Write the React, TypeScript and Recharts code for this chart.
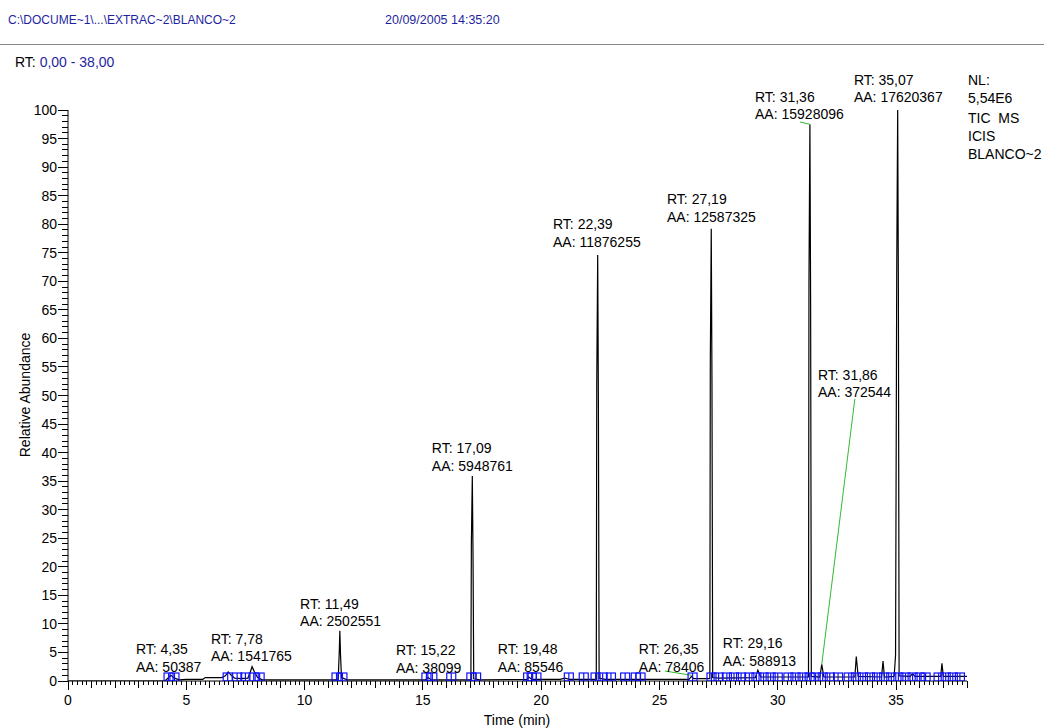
import {
  ComposedChart,
  Line,
  ReferenceDot,
  ReferenceLine,
  Scatter,
  XAxis,
  YAxis,
} from 'recharts'

// TIC trace, [time (min), relative abundance %]
const tracePoints: [number, number][] = [
  [0, 0], [4.1, 0], [4.2, 0.4], [4.35, 1.0], [4.5, 0.5], [4.7, 0.2],
  [5.0, 0.3], [5.7, 0.3], [5.8, 0.6], [6.5, 0.6], [6.65, 0.9], [6.77, 1.6],
  [6.9, 1.0], [7.05, 0.5], [7.3, 0.4], [7.6, 0.5], [7.7, 1.5], [7.78, 2.5],
  [7.88, 1.6], [8.0, 0.7], [8.2, 0.2], [11.42, 0.2], [11.47, 5.5], [11.49, 8.8],
  [11.52, 4.5], [11.56, 0.6], [11.8, 0.2], [15.1, 0.2], [15.22, 0.6], [15.35, 0.2],
  [17.03, 0.2], [17.05, 24], [17.09, 35.9], [17.12, 22], [17.15, 0.4], [17.4, 0.2],
  [19.4, 0.3], [19.48, 0.7], [19.6, 0.3], [20.8, 0.3], [21.0, 0.5], [21.2, 0.3],
  [22.33, 0.3], [22.35, 52], [22.39, 74.6], [22.42, 48], [22.45, 0.5], [22.7, 0.3],
  [26.25, 0.3], [26.35, 0.8], [26.45, 0.4], [27.13, 0.4], [27.15, 56], [27.19, 79.2],
  [27.22, 52], [27.25, 0.6], [27.5, 0.5], [29.05, 0.6], [29.16, 1.9], [29.28, 0.7],
  [30.2, 0.7], [31.3, 0.7], [31.32, 70], [31.36, 97.5], [31.39, 66], [31.42, 0.8],
  [31.78, 0.7], [31.86, 2.9], [31.95, 0.7], [33.26, 0.7], [33.32, 4.3], [33.4, 0.8],
  [34.39, 0.7], [34.45, 3.5], [34.51, 0.7], [34.92, 0.8], [34.98, 4.5], [35.03, 72],
  [35.07, 100], [35.1, 68], [35.13, 0.9], [35.6, 0.8], [35.7, 1.3], [35.8, 0.8],
  [36.89, 0.8], [36.94, 3.1], [37.0, 0.8], [38, 0.8],
]

// ICIS peak start/end markers (min)
const markerTimes = [
  4.25, 4.5, 6.75, 7.15, 7.5, 7.85, 8.1, 11.35, 11.6, 15.15, 15.4, 16.2,
  17.05, 17.25, 19.45, 19.6, 19.8, 21.17, 21.8, 22.3, 22.6, 22.95, 23.55, 24.0,
  24.2, 26.4, 27.2, 27.5, 27.85, 28.15, 28.45, 28.8, 29.1, 29.4, 29.7, 30.0,
  30.45, 30.75, 31.05, 31.35, 31.6, 31.9, 32.2, 32.55, 33.0, 33.3, 33.6, 33.9,
  34.2, 34.5, 34.8, 35.1, 35.4, 35.7, 36.0, 36.25, 36.8, 37.1, 37.4, 37.7,
]

// labelled peaks
const peakRT = [4.35, 7.78, 11.49, 15.22, 17.09, 19.48, 22.39, 26.35, 27.19, 29.16, 31.36, 31.86, 35.07]
const peakArea = [
  50387, 1541765, 2502551, 38099, 5948761, 85546, 11876255, 78406, 12587325,
  588913, 15928096, 372544, 17620367,
]
// label anchor (left edge in min, first line in %)
const labelAt: [number, number][] = [
  [2.87, 5.6], [6.04, 7.4], [9.81, 13.5], [13.86, 5.4], [15.38, 40.8], [18.17, 5.6],
  [20.5, 80.0], [24.13, 5.6], [25.32, 84.4], [27.68, 6.65], [29.04, 102.3], [31.7, 53.6],
  [33.22, 105.3],
]
// leader lines from label to peak
const leaders: [number, number, number, number][] = [
  [25.23, 1.75, 26.35, 1.0],
  [30.94, 97.9, 31.36, 97.5],
  [33.26, 49.4, 31.86, 2.9],
]

const infoLines = ['NL:', '5,54E6', 'TIC  MS', 'ICIS', 'BLANCO~2']

// tick positions: x every 0.2 min (labels every 5), y every 1 % (labels every 5)
const xTicks = Array.from({ length: 191 }, (_, i) => +(i * 0.2).toFixed(1))
const yTicks = Array.from({ length: 101 }, (_, i) => i)

const FONT = '"Liberation Sans", Arial, sans-serif'
const BLUE = '#1f1f9f'
const GREEN = '#33bb33'
const BOX = '#1010ff'

const traceData = tracePoints.map(([t, v]) => ({ t, v }))
const markerData = markerTimes.map((t) => ({ t, v: 0 }))
const fmt = (n: number) => n.toFixed(2).replace('.', ',')
const isWhole = (v: number) => Math.abs(v - Math.round(v)) < 1e-6
// snap 1px strokes onto the pixel grid
const crisp = (p: number) => Math.floor(p) + 0.5

function XTick(props: any) {
  const { x, y, payload } = props
  const v = payload.value as number
  const major = isWhole(v) && Math.round(v) % 5 === 0 && v < 38
  const len = major ? 9 : isWhole(v) ? 7 : 4
  const xx = crisp(x)
  return (
    <g>
      <line x1={xx} y1={y} x2={xx} y2={y + len} stroke="#000" />
      {major && (
        <text x={x} y={y + 24} textAnchor="middle" fontSize={14} fontFamily={FONT} fill="#000">
          {Math.round(v)}
        </text>
      )}
    </g>
  )
}

function YTick(props: any) {
  const { x, y, payload } = props
  const v = payload.value as number
  const major = v % 5 === 0
  const len = major ? 10 : 6
  const yy = crisp(y)
  return (
    <g>
      <line x1={x - len} y1={yy} x2={x} y2={yy} stroke="#000" />
      {major && (
        <text x={x - 11} y={y + 5} textAnchor="end" fontSize={14} fontFamily={FONT} fill="#000">
          {v}
        </text>
      )}
    </g>
  )
}

function MarkerBox(props: any) {
  const { cx, cy } = props
  if (cx == null || cy == null) return null
  return (
    <g stroke={BOX} fill="none" strokeWidth={1.2}>
      <rect x={cx - 4.5} y={cy - 8} width={9} height={8} />
      <line x1={cx} y1={cy - 8} x2={cx} y2={cy} />
    </g>
  )
}

function PeakLabel({ cx, cy, rt, aa }: { cx: number; cy: number; rt: number; aa: number }) {
  return (
    <text x={cx} y={cy + 5} fontSize={14} fontFamily={FONT} fill="#000">
      <tspan x={cx}>RT: {fmt(rt)}</tspan>
      <tspan x={cx} dy={17.5}>AA: {aa}</tspan>
    </text>
  )
}

export default function App() {
  return (
    <div
      style={{
        position: 'absolute',
        left: 0,
        top: 0,
        width: 1044,
        height: 728,
        background: '#fff',
        overflow: 'hidden',
        fontFamily: FONT,
      }}
    >
      <ComposedChart
        width={1044}
        height={728}
        margin={{ top: 110, right: 77, bottom: 46, left: 67 }}
      >
        <XAxis
          type="number"
          dataKey="t"
          domain={[0, 38]}
          ticks={xTicks}
          interval={0}
          height={1}
          tickSize={0}
          tickMargin={0}
          tickLine={false}
          axisLine={{ stroke: '#000' }}
          tick={XTick}
        />
        <YAxis
          type="number"
          domain={[0, 100]}
          allowDataOverflow
          ticks={yTicks}
          interval={0}
          width={1}
          tickSize={0}
          tickMargin={0}
          tickLine={false}
          axisLine={{ stroke: '#000' }}
          tick={YTick}
        />
        <Scatter
          data={markerData}
          dataKey="v"
          shape={MarkerBox}
          isAnimationActive={false}
        />
        <Line
          data={traceData}
          dataKey="v"
          type="linear"
          stroke="#000"
          strokeWidth={1.2}
          dot={false}
          isAnimationActive={false}
        />
        {leaders.map(([x1, y1, x2, y2], i) => (
          <ReferenceLine
            key={'l' + i}
            segment={[{ x: x1, y: y1 }, { x: x2, y: y2 }]}
            stroke={GREEN}
            strokeWidth={1}
            ifOverflow="visible"
          />
        ))}
        {peakRT.map((rt, i) => (
          <ReferenceDot
            key={'p' + i}
            x={labelAt[i][0]}
            y={labelAt[i][1]}
            r={0}
            ifOverflow="visible"
            shape={(p: any) => <PeakLabel cx={p.cx} cy={p.cy} rt={rt} aa={peakArea[i]} />}
          />
        ))}
      </ComposedChart>

      <svg
        width={1044}
        height={728}
        style={{ position: 'absolute', left: 0, top: 0, pointerEvents: 'none' }}
        fontFamily={FONT}
      >
        <text x={8} y={24} fontSize={12} fill={BLUE}>
          C:\DOCUME~1\...\EXTRAC~2\BLANCO~2
        </text>
        <text x={385} y={24} fontSize={12.5} fill={BLUE}>
          20/09/2005 14:35:20
        </text>
        <line x1={0} y1={44.5} x2={1044} y2={44.5} stroke="#888" strokeWidth={1} />
        <text x={15} y={67} fontSize={14} fill="#000">
          RT:<tspan fill={BLUE}> 0,00 - 38,00</tspan>
        </text>
        <text x={968} y={85} fontSize={14} fill="#000">
          {infoLines.map((s, i) => (
            <tspan key={s} x={968} dy={i === 0 ? 0 : i === 2 ? 20 : 18} style={{ whiteSpace: 'pre' }}>
              {s}
            </tspan>
          ))}
        </text>
        <text
          transform="translate(25,395) rotate(-90)"
          textAnchor="middle"
          dy={5}
          fontSize={14}
          fill="#000"
        >
          Relative Abundance
        </text>
        <text x={517} y={725} textAnchor="middle" fontSize={14} fill="#000">
          Time (min)
        </text>
      </svg>
    </div>
  )
}
